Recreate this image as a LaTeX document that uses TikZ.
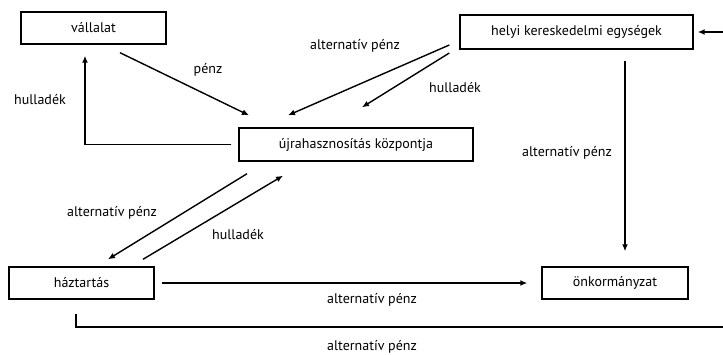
\documentclass[tikz,border=0pt]{standalone}
\usepackage{fontspec}
\setmainfont{PT Sans}
\usetikzlibrary{arrows.meta,calc}
\tikzset{
  box/.style={draw,line width=1.4pt,inner sep=0pt,font=\fontsize{14}{16}\selectfont},
  arr/.style={line width=1.4pt,-{Latex[length=7pt,width=6pt]}},
  plain/.style={line width=1.4pt},
  lbl/.style={inner sep=0pt,font=\fontsize{14}{16}\selectfont}
}
\begin{document}
\begin{tikzpicture}[x=1pt,y=-1pt]
\useasboundingbox (0,0) rectangle (723,354);
\node[box,minimum width=145pt,minimum height=32pt] (v) at (93.5,28) {vállalat};
\node[box,minimum width=234pt,minimum height=33pt] (u) at (356,144.5) {újrahasznosítás központja};
\node[box,minimum width=233pt,minimum height=34pt] (h) at (576.5,32) {helyi kereskedelmi egységek};
\node[box,minimum width=145pt,minimum height=32pt] (ha) at (81.5,283) {háztartás};
\node[box,minimum width=146pt,minimum height=32pt] (o) at (615,283) {önkormányzat};
\coordinate (inR) at (723,32);
\coordinate (outR) at (723,327);

\draw[arr] ($(v.south)+(26.5,8)$) -- ($(u.north)+(-107,-12)$);
\draw[arr] ($(u.west)+(-7,0)$) -| ($(v.south)+(-8.5,11)$);
\draw[arr] ($(h.west)+(-10,13)$) -- ($(u.north)+(-68,-12)$);
\draw[arr] ($(h.west)+(-10,21)$) -- ($(u.north)+(6,-20)$);
\draw[arr] (inR) -- ($(h.east)+(4,0)$);
\draw[arr] ($(h.south)+(48.5,11)$) -- ($(o.north)+(10,-15)$);
\draw[arr] ($(u.south)+(-109,12)$) -- ($(ha.north)+(26.5,-7)$);
\draw[arr] ($(ha.north)+(61.5,-7)$) -- ($(u.south)+(-73,14)$);
\draw[arr] ($(ha.east)+(7,0)$) -- ($(o.west)+(-14,0)$);
\draw[plain] ($(ha.south)+(-5.5,14)$) |- (outR);

\node[lbl] (l1) at (208,70) {pénz};
\node[lbl] (l2) at (40,100) {hulladék};
\node[lbl] (l3) at (355,46) {alternatív pénz};
\node[lbl] (l4) at (455,88) {hulladék};
\node[lbl] (l5) at (567,153) {alternatív pénz};
\node[lbl] (l6) at (112,213) {alternatív pénz};
\node[lbl] (l7) at (238,235) {hulladék};
\node[lbl] (l8) at (372,300) {alternatív pénz};
\node[lbl] (l9) at (372,347) {alternatív pénz};
\end{tikzpicture}
\end{document}
